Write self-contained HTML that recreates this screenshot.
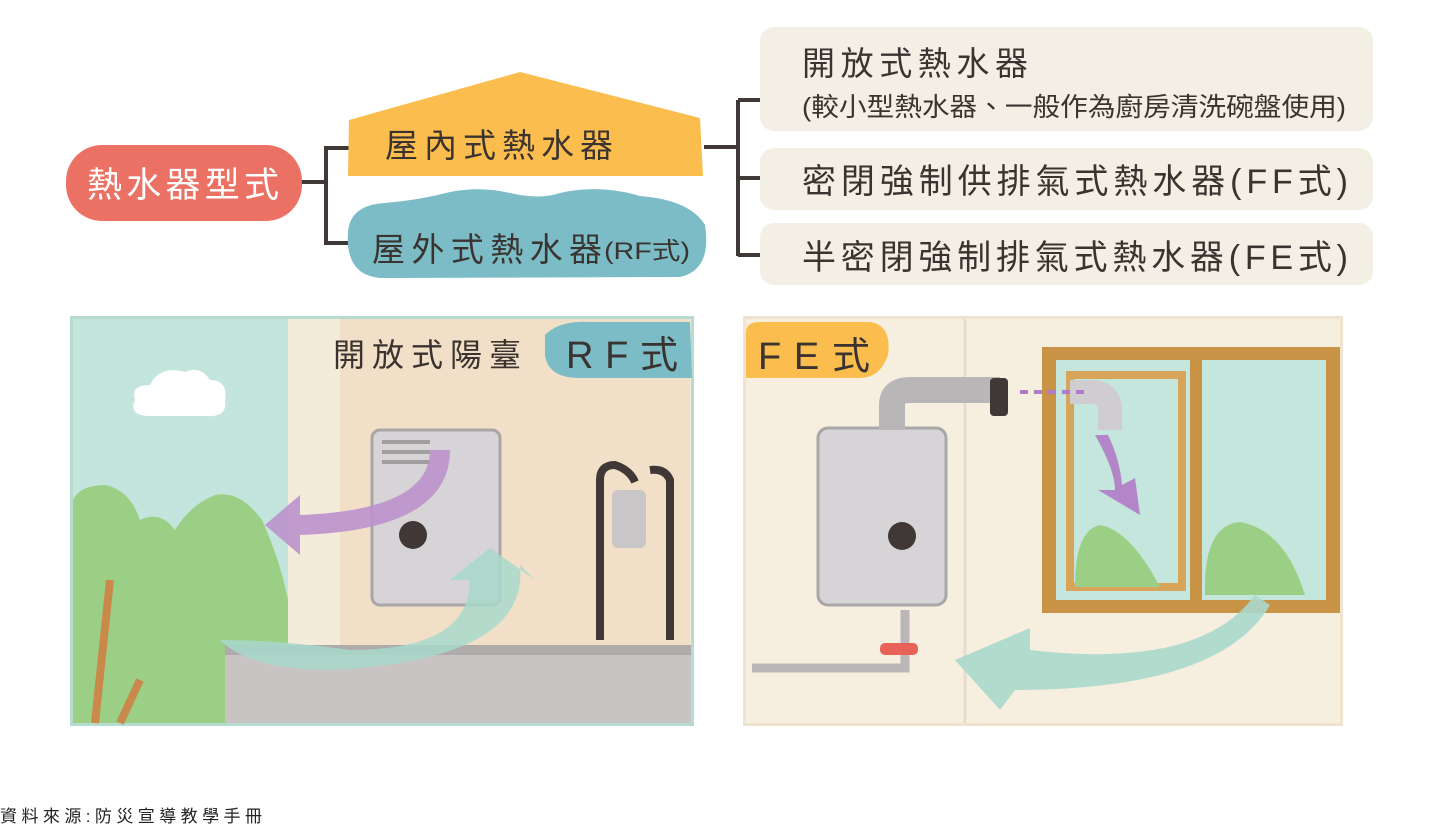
<!DOCTYPE html>
<html><head><meta charset="utf-8">
<style>
html,body{margin:0;padding:0;background:#fff;width:1440px;height:834px;overflow:hidden}
svg{display:block}
text{font-family:"Liberation Sans","Noto Sans CJK TC",sans-serif}
</style></head><body>
<svg width="1440" height="834" viewBox="0 0 1440 834" xmlns="http://www.w3.org/2000/svg">
<rect width="1440" height="834" fill="#fff"/>
<g stroke="#3f3836" stroke-width="4" fill="none">
<path d="M298 182H326M326 146V245M326 148H352M326 243H352"/>
<path d="M704 147H738M738 100V256M738 100H764M738 178H764M738 255H764"/>
</g>
<rect x="66" y="145" width="236" height="76" rx="36" fill="#ec7165"/>
<text x="183" y="197" font-size="35" fill="#fff" text-anchor="middle" textLength="192" lengthAdjust="spacing">熱水器型式</text>
<path d="M348 176L349 120L520 72L700 118L703 176Z" fill="#fbbe4e"/>
<text x="385" y="157" font-size="33" fill="#3a3330" textLength="228" lengthAdjust="spacing">屋內式熱水器</text>
<path d="M348 232Q350 205 385 203Q420 200 450 192Q480 186 510 193Q540 200 560 193Q600 184 640 196Q690 200 705 225Q712 270 680 277L380 278Q345 275 348 232Z" fill="#7bbcc6"/>
<text x="372" y="261" font-size="33" fill="#3a3330" textLength="230" lengthAdjust="spacing">屋外式熱水器</text>
<text x="604" y="259" font-size="24" fill="#3a3330" textLength="86" lengthAdjust="spacingAndGlyphs">(RF式)</text>
<rect x="760" y="27" width="613" height="104" rx="14" fill="#f3efe4"/>
<rect x="760" y="148" width="613" height="62" rx="14" fill="#f3efe4"/>
<rect x="760" y="223" width="613" height="62" rx="14" fill="#f3efe4"/>
<g fill="#3a3330">
<text x="802" y="75" font-size="33" textLength="226" lengthAdjust="spacing">開放式熱水器</text>
<text x="802" y="116" font-size="26" textLength="544" lengthAdjust="spacingAndGlyphs">(較小型熱水器、一般作為廚房清洗碗盤使用)</text>
<text x="802" y="193" font-size="34" textLength="546" lengthAdjust="spacing">密閉強制供排氣式熱水器(FF式)</text>
<text x="802" y="269" font-size="34" textLength="546" lengthAdjust="spacing">半密閉強制排氣式熱水器(FE式)</text>
</g>
<rect x="70" y="316" width="624" height="410" fill="#b5dccf"/>
<rect x="73" y="319" width="618" height="404" fill="#f4ecdb"/>
<rect x="73" y="319" width="215" height="404" fill="#c4e5dd"/>
<rect x="340" y="319" width="350" height="330" fill="#efdcbf" opacity="0.7"/>
<path d="M135 400Q130 385 150 385Q160 365 185 372Q200 365 210 380Q228 380 225 400Q228 418 205 416L150 416Q128 416 135 400Z" fill="#fff"/>
<path d="M73 500Q80 485 105 485Q130 490 140 520Q160 510 175 530Q190 505 215 495Q240 490 262 520Q280 560 288 600L288 723H73Z" fill="#9ccf86"/>
<path d="M95 723L110 580M120 723L140 680" stroke="#c8894a" stroke-width="8"/>
<rect x="225" y="648" width="466" height="75" fill="#c9c4c4"/>
<rect x="225" y="645" width="466" height="10" fill="#b0abab"/>
<rect x="372" y="430" width="128" height="175" rx="8" fill="#d6d4d6" stroke="#a9a6a8" stroke-width="3"/>
<g stroke="#a19ea0" stroke-width="4"><path d="M382 442H430M382 452H430M382 462H430"/></g>
<circle cx="413" cy="535" r="14" fill="#3f3836"/>
<path d="M600 640V480Q600 465 615 465Q630 470 635 482M670 640V480Q665 468 650 470" stroke="#3f3836" stroke-width="8" fill="none"/>
<rect x="612" y="490" width="34" height="58" rx="6" fill="#c9c6c8"/>
<path d="M430 450Q430 510 300 515L300 495L265 525L300 555L300 535Q450 530 450 450Z" fill="#bd92cc" opacity="0.9"/>
<path d="M520 565Q530 660 330 670Q250 670 220 640Q280 640 350 650Q470 650 470 580L450 580L490 548L535 580Z" fill="#a8d8cb" opacity="0.85"/>
<path d="M545 335Q560 320 590 322L690 322L692 378L580 378Q548 378 545 355Z" fill="#7bbcc6"/>
<text x="333" y="366" font-size="32" fill="#3a3330" textLength="188" lengthAdjust="spacing">開放式陽臺</text>
<text x="566" y="368" font-size="38" fill="#3a3330" textLength="112" lengthAdjust="spacing">RF式</text>
<rect x="743" y="316" width="600" height="410" fill="#efe3cf"/>
<rect x="746" y="319" width="594" height="404" fill="#f6efe0"/>
<line x1="965" y1="319" x2="965" y2="723" stroke="#e5dccb" stroke-width="3"/>
<rect x="1042" y="347" width="298" height="266" fill="#c99346"/>
<rect x="1056" y="360" width="270" height="240" fill="#c5e6dc"/>
<rect x="1190" y="350" width="12" height="255" fill="#c99346"/>
<rect x="1070" y="375" width="112" height="212" fill="none" stroke="#d8a45a" stroke-width="8"/>
<path d="M1075 587Q1075 530 1100 525Q1130 530 1160 587Z" fill="#9ccf86"/>
<path d="M1205 587Q1205 525 1240 522Q1285 530 1305 595L1205 595Z" fill="#9ccf86"/>
<rect x="818" y="428" width="128" height="177" rx="10" fill="#d6d4d6" stroke="#a9a6a8" stroke-width="3"/>
<circle cx="902" cy="536" r="14" fill="#3f3836"/>
<path d="M892 430V405Q892 390 910 390L1000 390" stroke="#b9b6b8" stroke-width="26" fill="none"/>
<rect x="990" y="378" width="18" height="38" rx="4" fill="#3f3836"/>
<path d="M1070 392L1095 392Q1110 395 1110 410L1110 430" stroke="#d0cdd0" stroke-width="24" fill="none"/>
<path d="M1020 392H1090" stroke="#b07bc8" stroke-width="4" stroke-dasharray="8 6"/>
<path d="M1095 435Q1115 470 1115 490L1098 490L1140 515L1135 478L1122 485Q1120 460 1108 435Z" fill="#b07bc8" opacity="0.9"/>
<path d="M752 668H905V610" stroke="#b9b6b8" stroke-width="9" fill="none"/>
<rect x="880" y="643" width="38" height="12" rx="5" fill="#e9625a"/>
<path d="M1255 595Q1200 670 1030 650L1030 628L955 660L1000 710L1015 690Q1220 690 1270 605Z" fill="#a8d8cb" opacity="0.9"/>
<path d="M746 332Q746 322 760 322L870 322Q892 325 888 355Q880 378 860 378L746 378Z" fill="#fbbe4e"/>
<text x="758" y="369" font-size="38" fill="#3a3330" textLength="112" lengthAdjust="spacing">FE式</text>
<text x="0" y="822" font-size="17" fill="#222" textLength="262" lengthAdjust="spacing">資料來源:防災宣導教學手冊</text>
</svg>
</body></html>
